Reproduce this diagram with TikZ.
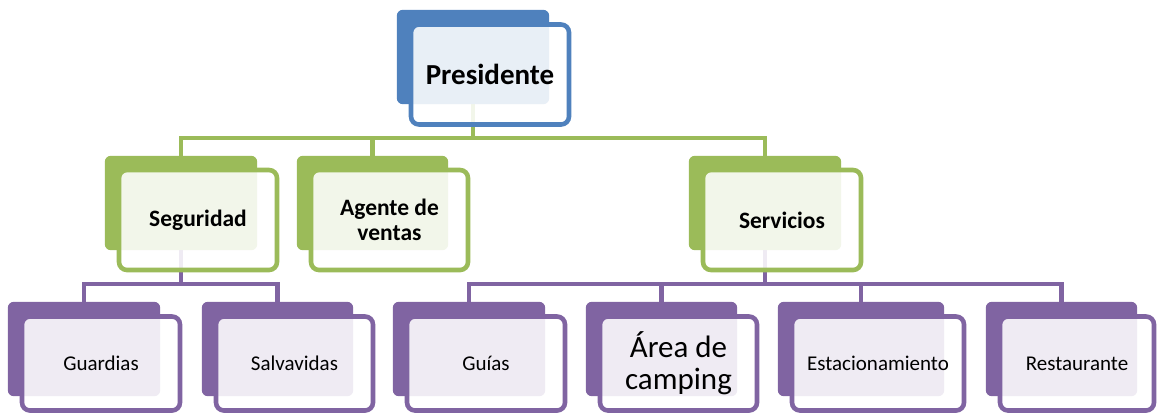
\documentclass[tikz,border=0pt]{standalone}
\usepackage{fontspec}
\setmainfont{Carlito}
\definecolor{cblue}{HTML}{4F81BD}
\definecolor{cgreen}{HTML}{9BBB59}
\definecolor{cpurple}{HTML}{8064A2}
\tikzset{
  backbox/.style={rectangle, rounded corners=6pt, inner sep=0pt, draw=none, minimum height=94pt},
  frontbox/.style={rectangle, rounded corners=8pt, line width=4.6pt, fill=white, fill opacity=0.875,
    text opacity=1, inner sep=0pt, align=center, text=black},
  conn/.style={line width=4.3pt},
  lvlA/.style={font=\fontsize{29}{31}\selectfont\bfseries},
  lvlB/.style={font=\fontsize{23.5}{25}\selectfont\bfseries},
  lvlC/.style={font=\fontsize{21}{23}\selectfont},
}
\begin{document}
\begin{tikzpicture}[x=1pt,y=-1pt]
\useasboundingbox (0,0) rectangle (1157,413);
\coordinate (gbus) at (473,138);
\coordinate (pbusL) at (181,284);
\coordinate (pbusR) at (765,284);
% back nodes
\path
  node[backbox, minimum width=152pt] (presb) at (473,57) {}
  node[backbox, minimum width=152pt] (segb) at (181,203) {}
  node[backbox, minimum width=151pt] (agb) at (372.5,203) {}
  node[backbox, minimum width=152pt] (servb) at (765,203) {}
  node[backbox, minimum width=152pt] (guab) at (84,349) {}
  node[backbox, minimum width=151pt] (salb) at (277.5,349) {}
  node[backbox, minimum width=152pt] (guib) at (469,349) {}
  node[backbox, minimum width=151pt] (areb) at (661.5,349) {}
  node[backbox, minimum width=166pt] (estb) at (861,349) {}
  node[backbox, minimum width=151pt] (resb) at (1061.5,349) {};
% connectors
\draw[conn, cgreen] (presb.south) -- (gbus);
\draw[conn, cgreen] (segb.north) |- (gbus) -| (servb.north);
\draw[conn, cgreen] (agb.north) -- (agb.north |- gbus);
\draw[conn, cpurple] (segb.south) -- (pbusL);
\draw[conn, cpurple] (guab.north) |- (pbusL) -| (salb.north);
\draw[conn, cpurple] (servb.south) -- (pbusR);
\draw[conn, cpurple] (guib.north) |- (pbusR) -| (resb.north);
\draw[conn, cpurple] (areb.north) -- (areb.north |- pbusR);
\draw[conn, cpurple] (estb.north) -- (estb.north |- pbusR);
% back box fills
\fill[cblue, rounded corners=6pt] (presb.north west) rectangle (presb.south east);
\foreach \n in {segb,agb,servb}{\fill[cgreen, rounded corners=6pt] (\n.north west) rectangle (\n.south east);}
\foreach \n in {guab,salb,guib,areb,estb,resb}{\fill[cpurple, rounded corners=6pt] (\n.north west) rectangle (\n.south east);}
% front boxes
\node[frontbox, draw=cblue, lvlA, minimum width=158pt, minimum height=100pt] (pres) at (490,74.5) {Presidente};
\node[frontbox, draw=cgreen, lvlB, minimum width=158pt, minimum height=100pt] (seg) at (198,220) {Seguridad};
\node[frontbox, draw=cgreen, lvlB, minimum width=157pt, minimum height=100pt] (ag) at (389.5,220) {Agente de\\ventas};
\node[frontbox, draw=cgreen, lvlB, minimum width=158pt, minimum height=100pt] (serv) at (782,220) {Servicios};
\node[frontbox, draw=cpurple, lvlC, minimum width=158pt, minimum height=94pt] (gua) at (101,363.5) {Guardias};
\node[frontbox, draw=cpurple, lvlC, minimum width=157pt, minimum height=94pt] (sal) at (294.5,363.5) {Salvavidas};
\node[frontbox, draw=cpurple, lvlC, minimum width=158pt, minimum height=94pt] (gui) at (486,363.5) {Guías};
\node[frontbox, draw=cpurple, font=\fontsize{31}{32}\selectfont, minimum width=157pt, minimum height=94pt] (are) at (678.5,363.5) {Área de\\camping};
\node[frontbox, draw=cpurple, lvlC, minimum width=172pt, minimum height=94pt] (est) at (878,363.5) {Estacionamiento};
\node[frontbox, draw=cpurple, lvlC, minimum width=154pt, minimum height=94pt] (res) at (1077,363.5) {Restaurante};
\end{tikzpicture}
\end{document}
